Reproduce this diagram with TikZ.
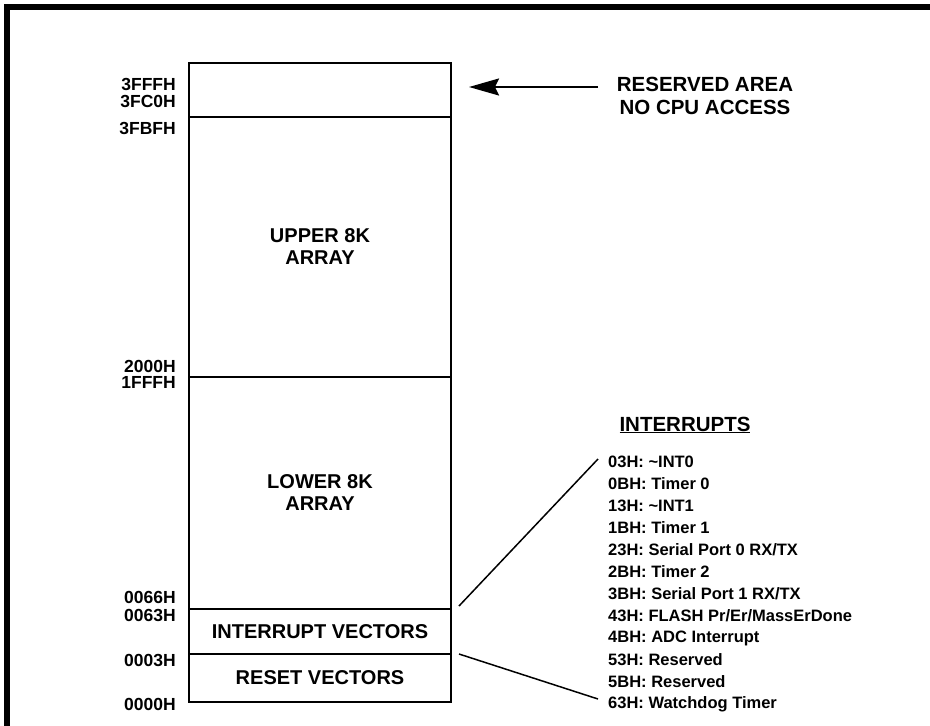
\documentclass[tikz,border=0pt]{standalone}
\usepackage{fontspec}
\setmainfont{Liberation Sans}
\usetikzlibrary{arrows.meta}
\begin{document}
\begin{tikzpicture}[x=1pt,y=-1pt,
  region/.style={draw,line width=2pt,minimum width=262pt,inner sep=0pt,align=center,
    font=\fontsize{20}{22}\selectfont\bfseries},
  addr/.style={anchor=east,inner sep=0pt,font=\fontsize{17.5}{20}\selectfont\bfseries},
  lst/.style={anchor=west,inner sep=0pt,font=\fontsize{16.5}{20}\selectfont\bfseries},
  conn/.style={line width=1.5pt},
  arr/.style={line width=2pt,-{Stealth[length=30pt,width=17pt,inset=4pt]}}]
\useasboundingbox (0,0) rectangle (930,726);
\draw[line width=6pt] (7,726) -- (7,7) -- (930,7);
% memory map regions
\node[region,minimum height=54pt] (res) at (320,90) {};
\node[region,minimum height=260pt] (up) at (320,247) {UPPER 8K\\ARRAY};
\node[region,minimum height=232pt] (low) at (320,493) {LOWER 8K\\ARRAY};
\node[region,minimum height=45pt] (iv) at (320,631.5) {INTERRUPT VECTORS};
\node[region,minimum height=48pt] (rv) at (320,678) {RESET VECTORS};
% address labels
\node[addr] (a1) at (176,84) {3FFFH};
\node[addr] (a2) at (176,101) {3FC0H};
\node[addr] (a3) at (176,128) {3FBFH};
\node[addr] (a4) at (176,366) {2000H};
\node[addr] (a5) at (176,382) {1FFFH};
\node[addr] (a6) at (176,597) {0066H};
\node[addr] (a7) at (176,615) {0063H};
\node[addr] (a8) at (176,660) {0003H};
\node[addr] (a9) at (176,704) {0000H};
% reserved note
\node[align=center,inner sep=0pt,font=\fontsize{20.5}{23}\selectfont\bfseries] (rtxt) at (705,96) {RESERVED AREA\\NO CPU ACCESS};
\coordinate (atail) at (598,87);
\draw[arr] (atail) -- ([xshift=17pt,yshift=3pt]res.east);
% interrupts list
\node[inner sep=0pt,font=\fontsize{20.5}{23}\selectfont\bfseries] (ihead) at (685,425) {\underline{INTERRUPTS}};
\foreach \t [count=\i from 0] in {03H: \textasciitilde INT0, 0BH: Timer 0, 13H: \textasciitilde INT1, 1BH: Timer 1,
  23H: Serial Port 0 RX/TX, 2BH: Timer 2, 3BH: Serial Port 1 RX/TX, 43H: FLASH Pr/Er/MassErDone,
  4BH: ADC Interrupt, 53H: Reserved, 5BH: Reserved, 63H: Watchdog Timer}
  \node[lst] (it\i) at (608,462+22*\i) {\t};
\draw[conn] ([xshift=7pt,yshift=2pt]iv.north east) -- ([xshift=-10pt,yshift=3pt]it0.west);
\draw[conn] ([xshift=7pt,yshift=-1pt]rv.north east) -- ([xshift=-10pt,yshift=5pt]it11.west);
\end{tikzpicture}
\end{document}
